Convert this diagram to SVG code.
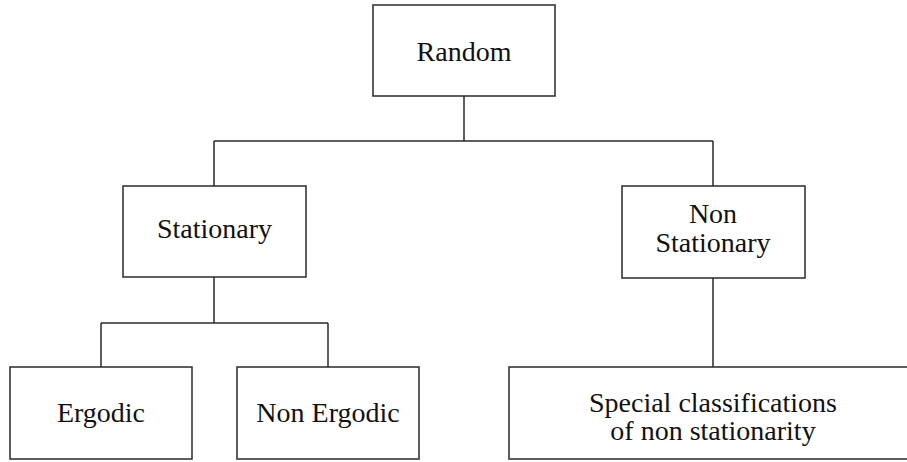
<svg xmlns="http://www.w3.org/2000/svg" width="907" height="462" viewBox="0 0 907 462">
<style>
.box{fill:#fff;stroke:#2a2a2a;stroke-width:1.5}
.lbl{font-family:"Liberation Serif","DejaVu Serif",serif;font-size:28px;fill:#111;text-anchor:middle}
.conn{fill:none;stroke:#2a2a2a;stroke-width:1.5}
</style>
<rect width="907" height="462" fill="#fff"/>
<g id="connectors">
<path class="conn" d="M464 96 V141 M214 141 H713 M214 141 V186 M713 141 V186"/>
<path class="conn" d="M214 277 V323 M101 323 H328 M101 323 V367 M328 323 V367"/>
<path class="conn" d="M713 278 V367"/>
</g>
<g id="random">
<rect class="box" x="373" y="5" width="182" height="91"/>
<text class="lbl" x="464" y="61">Random</text>
</g>
<g id="stationary">
<rect class="box" x="123" y="186" width="183" height="91"/>
<text class="lbl" x="214.5" y="238">Stationary</text>
</g>
<g id="non-stationary">
<rect class="box" x="622" y="186" width="183" height="92"/>
<text class="lbl" x="713" y="223">Non</text>
<text class="lbl" x="713" y="252">Stationary</text>
</g>
<g id="ergodic">
<rect class="box" x="10" y="367" width="182" height="92"/>
<text class="lbl" x="101" y="422">Ergodic</text>
</g>
<g id="non-ergodic">
<rect class="box" x="237" y="367" width="182" height="92"/>
<text class="lbl" x="328" y="422">Non Ergodic</text>
</g>
<g id="special">
<rect class="box" x="509" y="367" width="400" height="92"/>
<text class="lbl" x="713" y="412">Special classifications</text>
<text class="lbl" x="713" y="440">of non stationarity</text>
</g>
</svg>
